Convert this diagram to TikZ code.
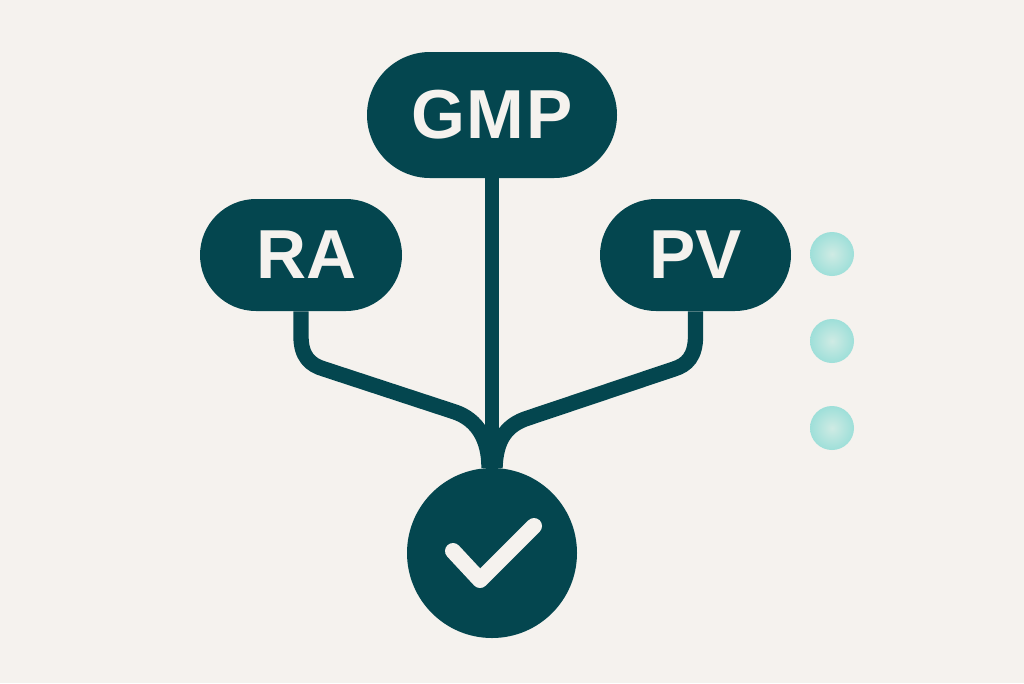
\documentclass[tikz,border=0pt]{standalone}
\usepackage{fontspec}
\setmainfont{Liberation Sans}
\usetikzlibrary{shapes.misc,shadings}
\definecolor{bgc}{HTML}{F5F2EE}
\definecolor{teal0}{HTML}{04464F}
\definecolor{dotin}{HTML}{CFEBE4}
\definecolor{dotout}{HTML}{9EDFD9}
\tikzset{
  pill/.style={rounded rectangle,fill=teal0,text=bgc,inner sep=0pt,font=\fontsize{52}{52}\selectfont\bfseries},
  link/.style={draw=teal0,line width=10.5pt},
  branch/.style={draw=teal0,line width=11.5pt},
  dot/.style={circle,inner sep=0pt,minimum size=33pt,inner color=dotin,outer color=dotout},
  tick/.style={draw=bgc,line width=12pt,line cap=round,line join=round}
}
\begin{document}
\begin{tikzpicture}[x=0.75pt,y=-0.75pt]
\useasboundingbox[fill=bgc] (0,0) rectangle (1024,683);
\node[pill,minimum width=187.5pt,minimum height=94.5pt] (gmp) at (492,115) {\addfontfeatures{LetterSpace=2.5}GMP};
\node[pill,minimum width=151.5pt,minimum height=84pt] (ra) at (301,255) {\hspace{8pt}\raisebox{-1pt}{RA}};
\node[pill,minimum width=143.25pt,minimum height=84pt] (pv) at (695.5,255) {\raisebox{-1pt}{PV}};
\node[circle,fill=teal0,minimum size=127.5pt,inner sep=0pt] (chk) at (492,553) {};
\coordinate (tka) at (453,551);
\coordinate (tkb) at (480,580);
\coordinate (tkc) at (534,526);
\draw[link] (gmp.south) -- (chk.north);
\draw[branch] (ra.south) -- ++(0,25) .. controls +(0,20) and (310,365) .. (324,369) -- (455,412)
  .. controls (478,420) and (489,440) .. ([xshift=-2.25pt]chk.north);
\draw[branch] (pv.south) -- ++(0,25) .. controls +(0,20) and (687,365) .. (674,369) -- (528,418)
  .. controls (506,425) and (496,440) .. ([xshift=2.25pt]chk.north);
\draw[tick] (tka) -- (tkb) -- (tkc);
\node[dot] (d1) at (832,254) {};
\node[dot] (d2) at (832,341) {};
\node[dot] (d3) at (832,428) {};
\end{tikzpicture}
\end{document}
